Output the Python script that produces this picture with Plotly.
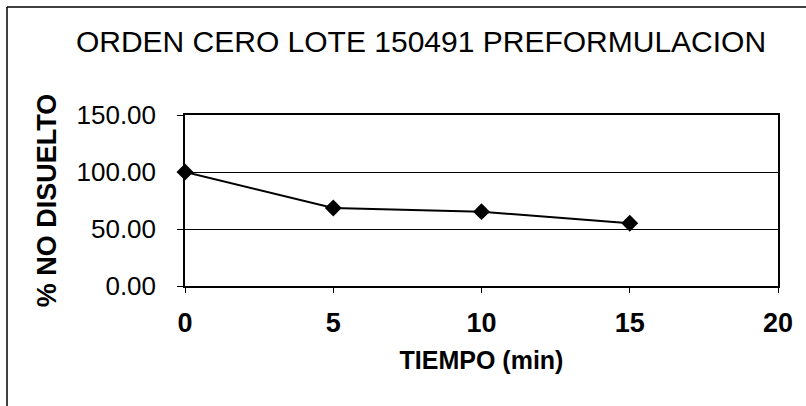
import plotly.graph_objects as go

tiempo = [0, 5, 10, 15]
no_disuelto = [100.0, 68.4, 65.2, 55.0]
x_ticks = [0, 5, 10, 15, 20]
y_ticks = [0, 50, 100, 150]

W, H = 806, 406
L, R, T, B = 185, 28, 115, 120
pw, ph = W - L - R, H - T - B

def px(xp):
    return (xp - L) / pw

def py(yp):
    return (H - B - yp) / ph

fig = go.Figure()
fig.add_trace(go.Scatter(
    x=tiempo, y=no_disuelto, mode="lines+markers",
    line=dict(color="black", width=2),
    marker=dict(symbol="diamond", size=13, color="black"),
    showlegend=False, cliponaxis=False,
))

fig.update_layout(
    width=W, height=H,
    margin=dict(l=L, r=R, t=T, b=B, autoexpand=False),
    paper_bgcolor="white", plot_bgcolor="white",
    font=dict(family="Liberation Sans, Arial", color="black"),
    title=dict(
        text="ORDEN CERO LOTE 150491 PREFORMULACION",
        font=dict(size=30, color="black"),
        x=421 / W, xref="container", xanchor="center",
        y=1 - 41 / H, yref="container", yanchor="middle",
    ),
    xaxis=dict(
        range=[0, 20], tickvals=x_ticks, ticktext=[str(v) for v in x_ticks],
        showline=True, linecolor="black", linewidth=1.5, mirror=True,
        ticks="outside", ticklen=5, tickcolor="black",
        showgrid=False, zeroline=False,
        tickfont=dict(size=27, weight="bold"),
        ticklabelstandoff=7,
        title=dict(text="<b>TIEMPO (min)</b>", font=dict(size=25), standoff=14),
        automargin=False,
    ),
    yaxis=dict(
        range=[0, 150], tickvals=y_ticks, ticktext=[f"{v:.2f}" for v in y_ticks],
        showline=True, linecolor="black", linewidth=1.5, mirror=True,
        ticks="outside", ticklen=6, tickcolor="black",
        showgrid=True, gridcolor="black", gridwidth=1, zeroline=False,
        tickfont=dict(size=26),
        ticklabelstandoff=16,
        title=dict(text="<b>% NO DISUELTO</b>", font=dict(size=27), standoff=12),
        automargin=False,
    ),
    shapes=[
        dict(type="line", xref="paper", yref="paper",
             x0=px(7), x1=px(7), y0=py(7), y1=py(H + 5),
             line=dict(color="black", width=1.5)),
        dict(type="line", xref="paper", yref="paper",
             x0=px(7), x1=px(W + 5), y0=py(7), y1=py(7),
             line=dict(color="black", width=1.5)),
    ],
)

fig.write_html("out.html")
